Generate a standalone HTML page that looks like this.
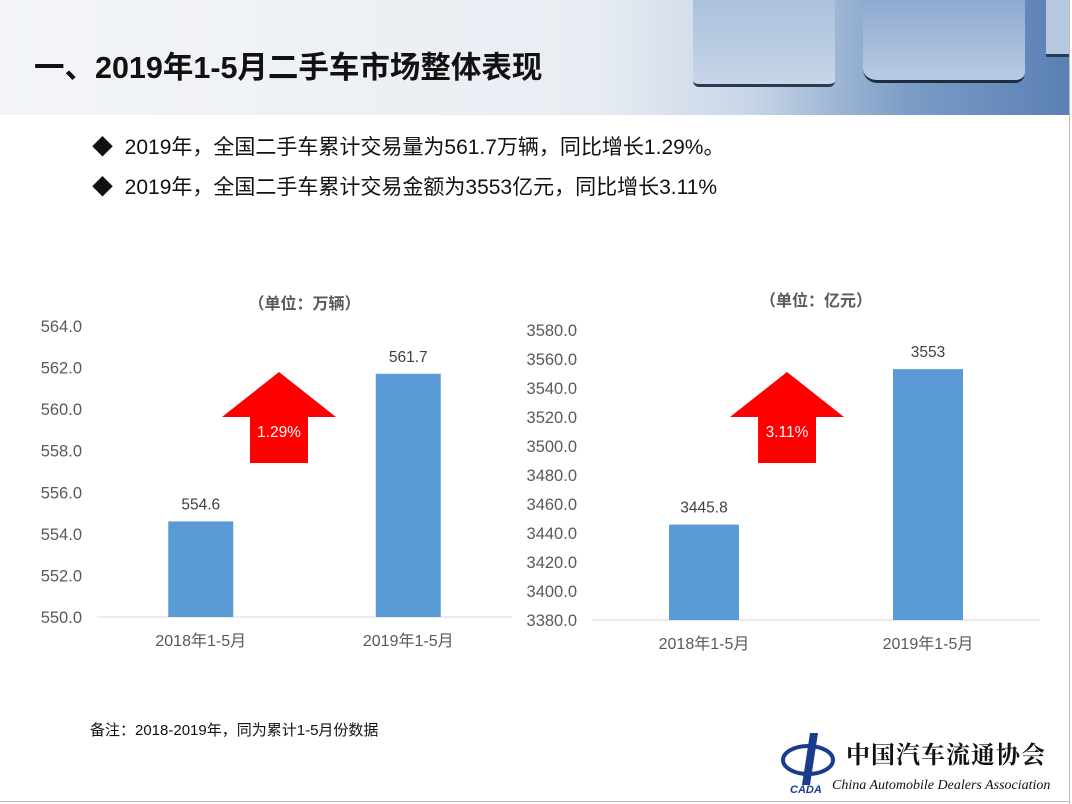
<!DOCTYPE html>
<html><head><meta charset="utf-8"><style>
body{margin:0;width:1072px;height:804px;overflow:hidden;background:#fff;font-family:"Liberation Sans","Noto Sans CJK SC",sans-serif;position:relative}
.abs{position:absolute}
</style></head><body>
<div class="abs" style="left:0;top:0;width:1069px;height:115px;background:linear-gradient(90deg,#f3f5f8 0%,#e9edf3 55%,#c9d6e8 70%,#7b9cc6 85%,#5a80b4 100%)"></div>
<div class="abs" style="left:693px;top:0;width:142px;height:84px;background:linear-gradient(180deg,#aac0dc,#c8d6e8);border-bottom:3px solid #2a3a50;border-radius:0 0 6px 6px"></div>
<div class="abs" style="left:863px;top:0;width:162px;height:80px;background:linear-gradient(180deg,#8eaad0,#b9cbe3);border-bottom:3px solid #1e2c40;border-radius:0 0 10px 14px"></div>
<div class="abs" style="left:1046px;top:0;width:23px;height:54px;background:#b6c8e0;border-bottom:3px solid #2a3a50"></div>
<div class="abs" style="left:34px;top:43px;font-size:30.5px;font-weight:bold;color:#111">一、2019年1-5月二手车市场整体表现</div>
<div class="abs" style="left:92px;top:131px;font-size:21px;color:#111">◆&nbsp; 2019年，全国二手车累计交易量为561.7万辆，同比增长1.29%。</div>
<div class="abs" style="left:92px;top:171px;font-size:21px;color:#111">◆&nbsp; 2019年，全国二手车累计交易金额为3553亿元，同比增长3.11%</div>
<div class="abs" style="left:90px;top:719px;font-size:15px;color:#111">备注：2018-2019年，同为累计1-5月份数据</div>
<div class="abs" style="left:1069px;top:0;width:1px;height:804px;background:#bbb"></div>
<div class="abs" style="left:0;top:801px;width:1070px;height:1px;background:#bbb"></div>
<svg class="abs" style="left:780px;top:725px" width="290" height="75">
<ellipse cx="28" cy="35" rx="25" ry="14" fill="none" stroke="#1a3c8c" stroke-width="4"/>
<path d="M30 8 L38 8 L30 60 L22 60 Z" fill="#1a3c8c"/>
<text x="10" y="68" font-size="11" font-style="italic" font-weight="bold" fill="#1a3c8c">CADA</text>
<text x="66" y="38" font-size="24" font-weight="bold" fill="#111" font-family="Noto Serif CJK SC,serif" letter-spacing="1">中国汽车流通协会</text>
<text x="52" y="64" font-size="14" font-style="italic" font-family="Liberation Serif,serif" fill="#111">China Automobile Dealers Association</text>
</svg>
<svg class="abs" id="chart" style="left:0;top:0" width="1072" height="804"></svg>
<script>
const cats=["2018年1-5月","2019年1-5月"];
const volVals=[554.6,561.7];
const volLabels=["554.6","561.7"];
const volTicks=[550,552,554,556,558,560,562,564];
const amtVals=[3445.8,3553];
const amtLabels=["3445.8","3553"];
const amtTicks=[3380,3400,3420,3440,3460,3480,3500,3520,3540,3560,3580];
const growth=["1.29%","3.11%"];
const NS="http://www.w3.org/2000/svg";
const svg=document.getElementById('chart');
function mk(t,a,p){const e=document.createElementNS(NS,t);for(const k in a)e.setAttribute(k,a[k]);(p||svg).appendChild(e);return e;}
function chart(c){
  const y=v=>c.y0-(v-c.min)/(c.max-c.min)*(c.y0-c.y1);
  const g=mk('g',{});
  
  
  const t=mk('text',{x:(c.ax0+c.ax1)/2,y:c.titleY,'text-anchor':'middle','font-size':16,'font-weight':'bold',fill:'#595959'},g);
  t.textContent=c.title;
  
  
  c.ticks.forEach(v=>{const tx=mk('text',{x:c.lx,y:y(v)+6,'text-anchor':'end','font-size':16.5,fill:'#595959'},g);tx.textContent=v.toFixed(1);
    
    });
  const ax=mk('line',{x1:c.ax0,x2:c.ax1,y1:c.y0,y2:c.y0,stroke:'#d9d9d9'},g);
  
  
  const bw=(c.ax1-c.ax0)/cats.length;
  cats.forEach((cat,i)=>{
    const cx=c.ax0+bw*(i+0.5);
    const r=mk('rect',{x:cx-c.barW/2,y:y(c.vals[i]),width:c.barW,height:c.y0-y(c.vals[i]),fill:'#5b9bd5'},g);
    
    
    const l=mk('text',{x:cx,y:y(c.vals[i])-12,'text-anchor':'middle','font-size':15.5,fill:'#404040'},g);l.textContent=c.labels[i];
    
    
    const cl=mk('text',{x:cx,y:c.y0+29,'text-anchor':'middle','font-size':16,fill:'#595959'},g);cl.textContent=cat;
    
    
  });
  const a=c.arrowX;
  const ar=mk('path',{d:`M${a} 372 L${a+57} 417 L${a+29} 417 L${a+29} 463 L${a-29} 463 L${a-29} 417 L${a-57} 417 Z`,fill:'#ff0000'},g);
  
  
  const at=mk('text',{x:a,y:437,'text-anchor':'middle','font-size':15.5,fill:'#fff'},g);at.textContent=c.growth;
  
  
}
chart({name:'volume-chart',title:'（单位：万辆）',titleY:309,min:550,max:564,y0:617,y1:326,ticks:volTicks,vals:volVals,labels:volLabels,lx:82,ax0:97,ax1:512,barW:65,arrowX:279,growth:growth[0]});
chart({name:'amount-chart',title:'（单位：亿元）',titleY:306,min:3380,max:3580,y0:620,y1:330,ticks:amtTicks,vals:amtVals,labels:amtLabels,lx:577,ax0:592,ax1:1040,barW:70,arrowX:787,growth:growth[1]});
</script>
</body></html>
